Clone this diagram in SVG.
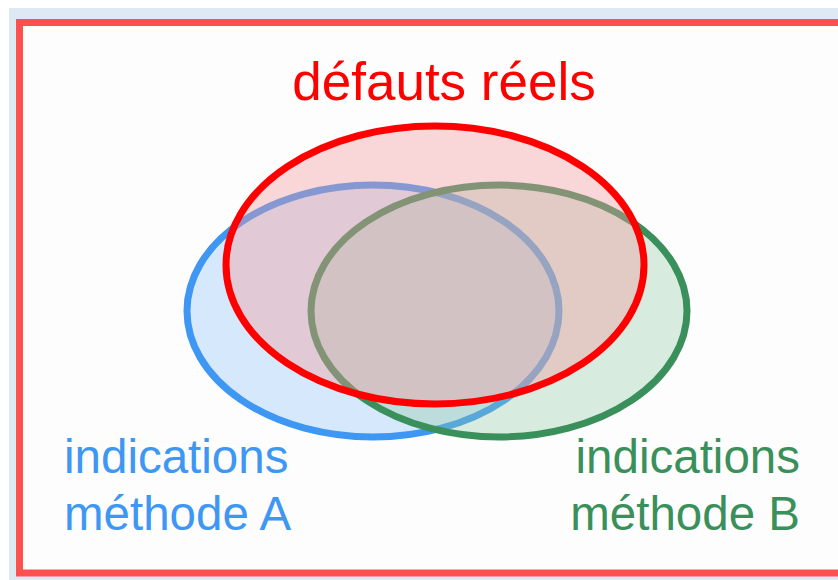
<svg xmlns="http://www.w3.org/2000/svg" width="838" height="580" viewBox="0 0 838 580">
<style>
text{font-family:"Liberation Sans",Arial,sans-serif;font-size:47.5px}
.e{stroke-width:7}
</style>
<rect x="0" y="0" width="838" height="580" fill="#ffffff"/>
<rect x="9" y="8" width="829" height="572" fill="#dfe9f4"/>
<rect x="19.5" y="22.5" width="830" height="550.5" fill="#fdfdfd" stroke="#ff5050" stroke-width="7"/>
<g id="methodeA">
<ellipse class="e" cx="373" cy="311" rx="186" ry="126" fill="#9cc9f7" fill-opacity="0.4" stroke="#3d97f3"/>
</g>
<g id="methodeB">
<ellipse class="e" cx="499" cy="311" rx="188" ry="126" fill="#8fc9a2" fill-opacity="0.35" stroke="#3a905a"/>
</g>
<g id="defauts">
<ellipse class="e" cx="435" cy="265" rx="209" ry="139" fill="#f39aa0" fill-opacity="0.4" stroke="#ff0000"/>
</g>
<g id="labels">
<text x="444" y="100" text-anchor="middle" fill="#ff0000" style="font-size:53px">défauts réels</text>
<text x="64" y="473" fill="#3d97f3">indications</text>
<text x="64" y="530" fill="#3d97f3">méthode A</text>
<text x="800" y="473" text-anchor="end" fill="#3a905a">indications</text>
<text x="800" y="530" text-anchor="end" fill="#3a905a">méthode B</text>
</g>
<g id="connectors"/>
</svg>
